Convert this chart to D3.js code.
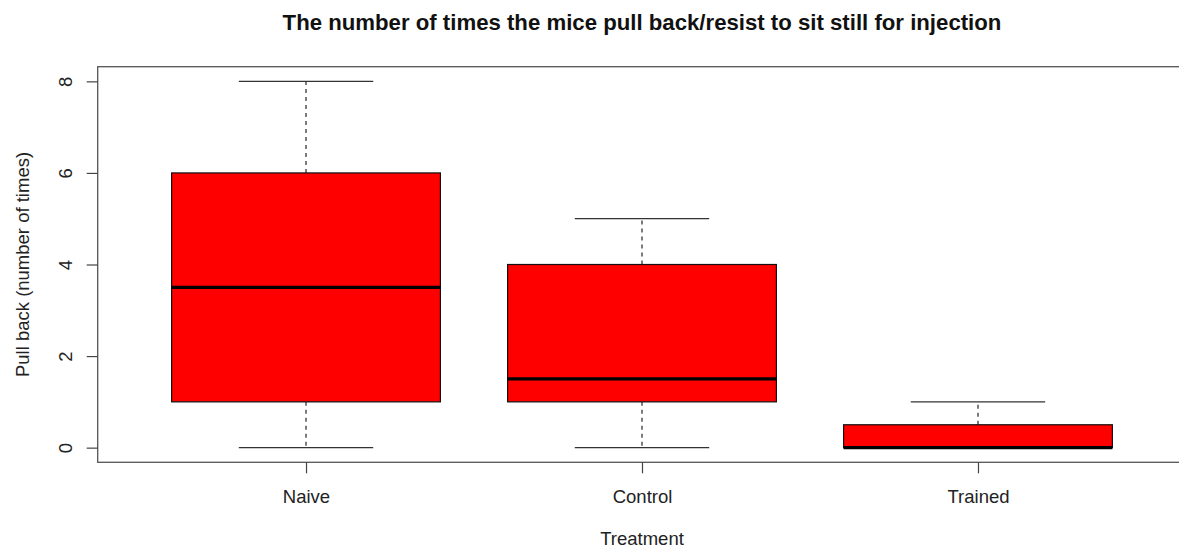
<!DOCTYPE html>
<html>
<head>
<meta charset="utf-8">
<script src="https://cdn.jsdelivr.net/npm/d3@7"></script>
<style>
  html, body { margin: 0; padding: 0; background: #fff; }
  svg { display: block; font-family: "Liberation Sans", Arial, sans-serif; }
</style>
</head>
<body>
<svg id="chart" width="1179" height="550"></svg>
<script>
// Group labels and five-number summaries (min, Q1, median, Q3, max)
const groups   = ["Naive", "Control", "Trained"];
const whiskLo  = [0, 0, 0];
const q1       = [1, 1, 0];
const medians  = [3.5, 1.5, 0];
const q3       = [6, 4, 0.5];
const whiskHi  = [8, 5, 1];
const yTicks   = [0, 2, 4, 6, 8];

const titleText = "The number of times the mice pull back/resist to sit still for injection";
const xTitle = "Treatment";
const yTitle = "Pull back (number of times)";

const svg = d3.select("#chart");

// plot region (extends past the right edge of the canvas)
const plotL = 97.7, plotR = 1186.3, plotT = 66.7, plotB = 462.3;

const x = d3.scaleLinear().domain([0.38, 3.62]).range([plotL, plotR]);
const y = d3.scaleLinear().domain([-0.32, 8.32]).range([plotB, plotT]);

const boxW = 0.8, capW = 0.4;
const idx = groups.map((g, i) => i);
const labelSize = 18.5;

// frame
svg.append("rect")
  .attr("x", plotL).attr("y", plotT)
  .attr("width", plotR - plotL).attr("height", plotB - plotT)
  .attr("fill", "none").attr("stroke", "#555").attr("stroke-width", 1.3);

const g = svg.append("g");

// dashed whiskers and caps
idx.forEach(i => {
  const cx = x(i + 1);
  g.append("line")
    .attr("x1", cx).attr("x2", cx)
    .attr("y1", y(q3[i])).attr("y2", y(whiskHi[i]))
    .attr("stroke", "#111").attr("stroke-dasharray", "4,4").attr("stroke-width", 1.1);
  g.append("line")
    .attr("x1", cx).attr("x2", cx)
    .attr("y1", y(q1[i])).attr("y2", y(whiskLo[i]))
    .attr("stroke", "#111").attr("stroke-dasharray", "4,4").attr("stroke-width", 1.1);
  [whiskHi[i], whiskLo[i]].forEach(v => {
    g.append("line")
      .attr("x1", x(i + 1 - capW / 2)).attr("x2", x(i + 1 + capW / 2))
      .attr("y1", y(v)).attr("y2", y(v))
      .attr("stroke", "#333").attr("stroke-width", 1.2);
  });
});

// boxes
g.selectAll("rect.box").data(idx).join("rect")
  .attr("class", "box")
  .attr("x", i => x(i + 1 - boxW / 2))
  .attr("width", i => x(i + 1 + boxW / 2) - x(i + 1 - boxW / 2))
  .attr("y", i => y(q3[i]))
  .attr("height", i => y(q1[i]) - y(q3[i]))
  .attr("fill", "#ff0000").attr("stroke", "#111").attr("stroke-width", 1.2);

// medians
g.selectAll("line.med").data(idx).join("line")
  .attr("class", "med")
  .attr("x1", i => x(i + 1 - boxW / 2)).attr("x2", i => x(i + 1 + boxW / 2))
  .attr("y1", i => y(medians[i])).attr("y2", i => y(medians[i]))
  .attr("stroke", "#000").attr("stroke-width", 3.2);

// y axis
const yAxis = d3.axisLeft(y).tickValues(yTicks).tickSize(11).tickSizeOuter(0);
const ya = svg.append("g").attr("transform", `translate(${plotL},0)`).call(yAxis);
ya.attr("font-size", null).attr("font-family", null);
ya.select(".domain").remove();
ya.selectAll(".tick line").attr("stroke", "#444").attr("stroke-width", 1.2);
ya.selectAll(".tick text")
  .style("font-size", labelSize + "px").attr("fill", "#222")
  .attr("text-anchor", "middle")
  .attr("x", null).attr("dy", null)
  .attr("transform", `translate(${65 - plotL},0) rotate(-90)`)
  .attr("dominant-baseline", "central");

// x axis
const xAxis = d3.axisBottom(x).tickValues([1, 2, 3])
  .tickFormat((d) => groups[d - 1]).tickSize(11).tickSizeOuter(0);
const xa = svg.append("g").attr("transform", `translate(0,${plotB})`).call(xAxis);
xa.attr("font-size", null).attr("font-family", null);
xa.select(".domain").remove();
xa.selectAll(".tick line").attr("stroke", "#444").attr("stroke-width", 1.2);
xa.selectAll(".tick text")
  .style("font-size", labelSize + "px").attr("fill", "#222")
  .attr("dy", null).attr("y", 503 - plotB);

// titles
svg.append("text")
  .attr("x", (plotL + plotR) / 2).attr("y", 29.5)
  .attr("text-anchor", "middle").attr("font-weight", "bold")
  .style("font-size", "22.2px").attr("fill", "#111")
  .text(titleText);

svg.append("text")
  .attr("x", (plotL + plotR) / 2).attr("y", 545)
  .attr("text-anchor", "middle").style("font-size", labelSize + "px").attr("fill", "#222")
  .text(xTitle);

svg.append("text")
  .attr("transform", `translate(29,${(plotT + plotB) / 2}) rotate(-90)`)
  .attr("text-anchor", "middle").style("font-size", labelSize + "px").attr("fill", "#222")
  .text(yTitle);
</script>
</body>
</html>
